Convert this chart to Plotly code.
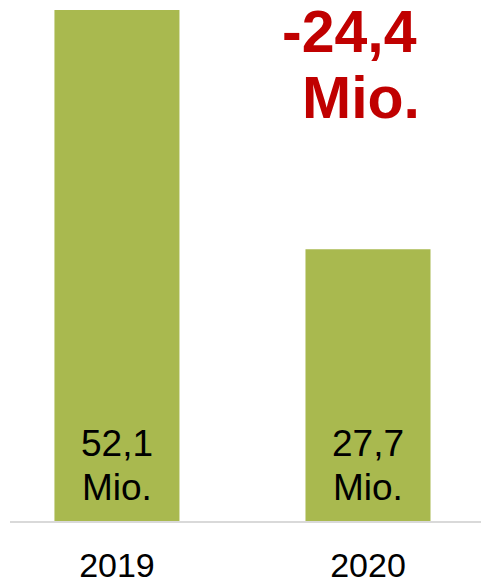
import plotly.graph_objects as go

years = ["2019", "2020"]
values = [52.1, 27.7]
value_text = ["52,1", "27,7"]
unit_text = "Mio."
diff_text = "-24,4"

FONT = "Liberation Sans, Arial"

fig = go.Figure()
fig.add_trace(go.Bar(
    x=years, y=values, width=0.498,
    marker=dict(color="#A9B94F", line=dict(width=0)),
    hoverinfo="x+y",
))

for i, vt in enumerate(value_text):
    fig.add_annotation(x=i, y=0, xref="x", yref="y", text=vt, showarrow=False,
                       yanchor="middle", yshift=78,
                       font=dict(family=FONT, size=37, color="#000000"))
    fig.add_annotation(x=i, y=0, xref="x", yref="y", text=unit_text, showarrow=False,
                       yanchor="middle", yshift=34,
                       font=dict(family=FONT, size=37, color="#000000"))

fig.add_annotation(x=1, y=1, xref="x", yref="paper", text=diff_text, showarrow=False,
                   xshift=-18, yshift=-23.5, yanchor="middle",
                   font=dict(family=FONT, size=59, color="#C00000", weight="bold"))
fig.add_annotation(x=1, y=1, xref="x", yref="paper", text=unit_text, showarrow=False,
                   xshift=-7, yshift=-90, yanchor="middle",
                   font=dict(family=FONT, size=59, color="#C00000", weight="bold"))

fig.update_layout(
    width=481, height=576,
    margin=dict(l=2, r=0, t=0, b=63),
    paper_bgcolor="white", plot_bgcolor="white",
    showlegend=False,
    xaxis=dict(type="category", range=[-0.426, 1.482], showline=True, linecolor="#D9D9D9",
               linewidth=2, ticks="", showgrid=False, ticklabelstandoff=13,
               tickfont=dict(family=FONT, size=34, color="#000000")),
    yaxis=dict(range=[0, 52.3], visible=False, showgrid=False, zeroline=False),
)

fig.write_html("out.html")
